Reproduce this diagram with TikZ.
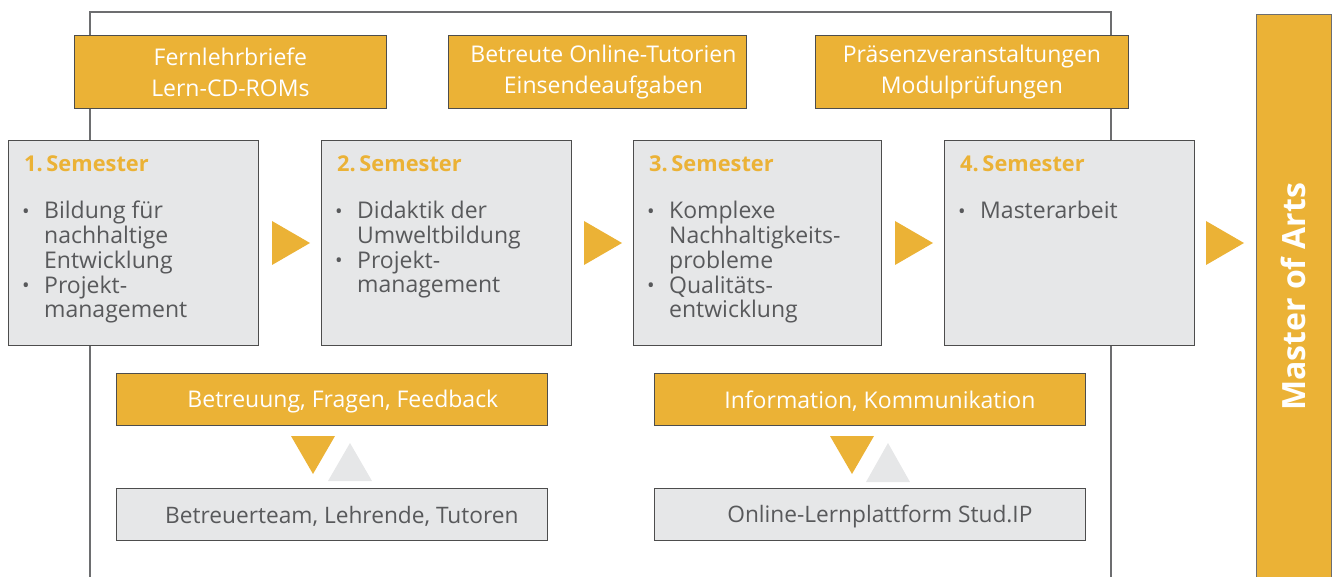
\documentclass[tikz,border=0pt]{standalone}
\usepackage{fontspec}
\setmainfont{Open Sans}
\definecolor{ayellow}{HTML}{EBB236}
\definecolor{agray}{HTML}{E6E7E8}
\definecolor{atext}{HTML}{58595B}
\definecolor{aborder}{HTML}{4D4D4D}
\definecolor{aframe}{HTML}{6D6E70}
\newcommand\mybul{\raisebox{0.02em}{\fontsize{20}{20}\selectfont\textbullet}}
\newcommand\mylist[1]{{\renewcommand{\arraystretch}{1}\begin{tabular}[t]{@{}p{22pt}@{}l@{}}#1\end{tabular}}}
\tikzset{
  box/.style={draw=aborder, line width=0.8pt, inner sep=0pt, anchor=north west},
  ybox/.style={box, fill=ayellow},
  gbox/.style={box, fill=agray},
  ytext/.style={text=white, font=\fontsize{23}{31}\selectfont, align=center, inner sep=0pt},
  gtext/.style={text=atext, font=\fontsize{22.7}{31}\selectfont, align=center, inner sep=0pt},
  semhead/.style={text=ayellow, font=\bfseries\fontsize{21.8}{24}\selectfont, anchor=base west, inner sep=0pt},
  sembody/.style={text=atext, font=\fontsize{23}{24}\selectfont, anchor=base west, inner sep=0pt}
}
\begin{document}
\begin{tikzpicture}[x=1pt,y=-1pt]
\useasboundingbox (0,0) rectangle (1334,577);
% frame
\draw[aframe, line width=1.3pt] (90,577) -- (90,12) -- (1111,12) -- (1111,577);
% top boxes
\node[ybox, minimum width=312pt, minimum height=73pt] (f1) at (74,35) {};
\node[ybox, minimum width=298pt, minimum height=73pt] (f2) at (448,35) {};
\node[ybox, minimum width=313pt, minimum height=73pt] (f3) at (815,35) {};
\node[ytext] (f1t) at (f1.center) {Fernlehrbriefe\\Lern-CD-ROMs};
\node[ytext] (f2t) at ([xshift=6pt]f2.center) {Betreute Online-Tutorien\\Einsendeaufgaben};
\node[ytext] (f3t) at (f3.center) {Präsenzveranstaltungen\\Modulprüfungen};
% semester boxes
\node[gbox, minimum width=250pt, minimum height=205pt] (s1) at (8,140) {};
\node[gbox, minimum width=250pt, minimum height=205pt] (s2) at (321,140) {};
\node[gbox, minimum width=248pt, minimum height=205pt] (s3) at (633,140) {};
\node[gbox, minimum width=250pt, minimum height=205pt] (s4) at (944,140) {};
\node[semhead] (h1) at (24,172) {1.\,Semester};
\node[semhead] (h2) at (337,172) {2.\,Semester};
\node[semhead] (h3) at (649,172) {3.\,Semester};
\node[semhead] (h4) at (960,172) {4.\,Semester};
\node[sembody] (b1) at (22,219) {\mylist{\mybul & Bildung für\\ & nachhaltige\\ & Entwicklung\\ \mybul & Projekt-\\ & management}};
\node[sembody] (b2) at (335,219) {\mylist{\mybul & Didaktik der\\ & Umweltbildung\\ \mybul & Projekt-\\ & management}};
\node[sembody] (b3) at (647,219) {\mylist{\mybul & Komplexe\\ & Nachhaltigkeits-\\ & probleme\\ \mybul & Qualitäts-\\ & entwicklung}};
\node[sembody] (b4) at (958,219) {\mylist{\mybul & Masterarbeit}};
% right arrows
\fill[ayellow] (272,221) -- (310,243) -- (272,265) -- cycle;
\fill[ayellow] (584,221) -- (622,243) -- (584,265) -- cycle;
\fill[ayellow] (895,221) -- (933,243) -- (895,265) -- cycle;
\fill[ayellow] (1206,221) -- (1244,243) -- (1206,265) -- cycle;
% master box
\node[ybox, draw=aframe, minimum width=75pt, minimum height=580pt] (ma) at (1256,14) {};
\node[text=white, font=\bfseries\fontsize{32}{32}\selectfont, rotate=90, inner sep=0pt] (mat) at (1293,297) {Master of Arts};
% bottom boxes
\node[ybox, minimum width=431pt, minimum height=52pt] (y1) at (116,373) {};
\node[ybox, minimum width=431pt, minimum height=52pt] (y2) at (654,373) {};
\node[gbox, minimum width=431pt, minimum height=52pt] (g1) at (116,488) {};
\node[gbox, minimum width=431pt, minimum height=52pt] (g2) at (654,488) {};
\node[ytext] (y1t) at ([xshift=11pt,yshift=-2pt]y1.center) {Betreuung, Fragen, Feedback};
\node[ytext] (y2t) at ([xshift=10pt,yshift=-2pt]y2.center) {Information, Kommunikation};
\node[gtext] (g1t) at ([xshift=10pt,yshift=-2pt]g1.center) {Betreuerteam, Lehrende, Tutoren};
\node[gtext] (g2t) at ([xshift=10pt,yshift=-2pt]g2.center) {Online-Lernplattform Stud.IP};
% down/up triangles
\fill[ayellow] (291,436) -- (335,436) -- (313,474) -- cycle;
\fill[agray] (328,481) -- (372,481) -- (350,443) -- cycle;
\fill[ayellow] (830,436) -- (874,436) -- (852,474) -- cycle;
\fill[agray] (866,482) -- (910,482) -- (888,443) -- cycle;
\end{tikzpicture}
\end{document}
